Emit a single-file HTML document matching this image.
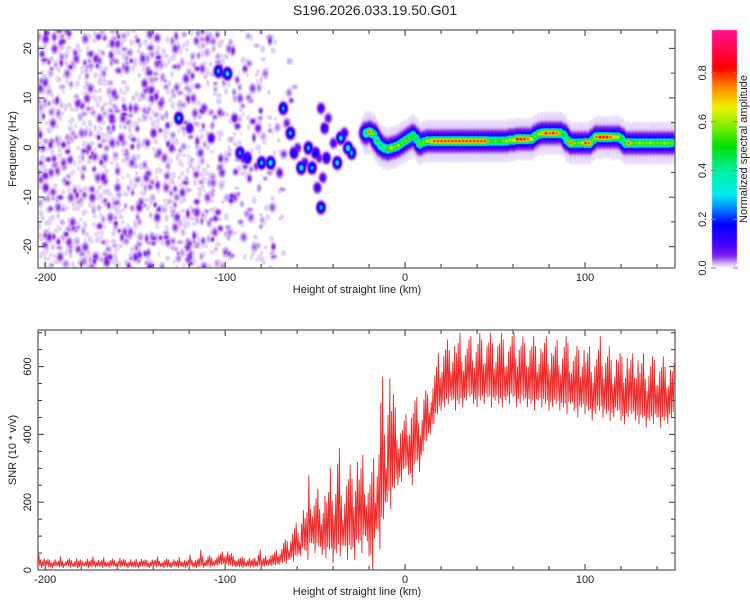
<!DOCTYPE html>
<html><head><meta charset="utf-8"><style>
html,body{margin:0;padding:0;background:#fff;width:750px;height:600px;overflow:hidden}
#wrap{position:relative;width:750px;height:600px}
canvas{position:absolute;left:0;top:0}
svg{position:absolute;left:0;top:0}
text{font-family:"Liberation Sans",sans-serif;fill:#222}
</style></head><body>
<div id="wrap">
<canvas id="heat" width="750" height="600"></canvas>
<svg id="svg" width="750" height="600"></svg>
</div>
<script>
// ---------- DATA ----------
const xRange=[-204,150];
const freqRange=[-24.3,23.7];
const snrRange=[0,708];
const cbRange=[0,0.976];
const xTicks=[-200,-100,0,100];
const freqTicks=[-20,-10,0,10,20];
const snrTicks=[0,200,400,600];
const cbTicks=[0.0,0.2,0.4,0.6,0.8];
const cbTickLabels=["0.0","0.2","0.4","0.6","0.8"];

// noise blobs: km, Hz, amplitude
const noiseKm=[-200,-195,-188,-182,-196,-200,-190,-185,-198,-192,-178,-172,-175,-170,-176,-168,-174,-178,-166,-180,-160,-155,-162,-150,-158,-152,-160,-148,-156,-150,-142,-138,-145,-136,-140,-134,-144,-138,-132,-142,-128,-122,-126,-118,-120,-114,-124,-116,-128,-120,-110,-104,-99,-112,-108,-102,-110,-106,-100,-112,-95,-92,-88,-95,-90,-85,-80,-75,-82,-86,-68,-64,-62,-58,-54,-50,-52,-47,-49,-47,-45,-38,-36,-32,-30,-70,-44,-205,-186,-164,-146,-130,-98,-92,-78,-74,-84,-203,-193,-183,-171,-163,-153,-141,-133,-121,-113,-103,-187,-167,-157,-137,-127,-117,-107,-197,-177,-147,-101,-90,-60,-56,-48,-46,-43,-66,-40,-34];
const noiseHz=[22,20,15,9,5,-8,-3,-15,-18,-22,22,18,12,6,0,-6,-10,-20,-23,3,21,16,11,8,2,-3,-8,-12,-17,-22,23,17,13,9,3,-2,-6,-14,-19,-24,20,14,6,10,4,-1,-9,-13,-16,-22,22,15.5,15,8,2,-5,-10,-17,-21,-24,6,-1,-2,-10,-18,12,-3,-3,4,-14,8,3,-1,-4,0,-1,-4,-12,-8,8,4,-3,2,0,-1,-5,-2,-5,-10,-14,18,0,20,10,15,-12,-20,12,-12,18,-6,1,-17,10,-8,-20,16,-4,-19,-2,6,-1,-14,7,-7,-5,10,-11,15,-2,0,-3,-2,-6,6,5,1,3];
const noiseAmp=[.06,.05,.04,.055,.05,.06,.045,.05,.055,.05,.045,.055,.045,.05,.045,.06,.055,.05,.06,.04,.05,.045,.05,.045,.055,.045,.05,.06,.045,.055,.05,.045,.055,.05,.06,.045,.05,.055,.045,.06,.05,.055,.3,.045,.12,.05,.05,.055,.045,.05,.045,.3,.34,.055,.1,.05,.045,.045,.04,.045,.07,.28,.22,.045,.04,.045,.3,.36,.06,.04,.28,.3,.2,.36,.3,.2,.28,.3,.12,.12,.15,.34,.34,.38,.3,.07,.18,.05,.045,.045,.05,.055,.04,.045,.035,.04,.035,.05,.045,.05,.045,.05,.045,.05,.045,.05,.045,.04,.05,.045,.05,.045,.05,.045,.04,.045,.05,.045,.09,.09,.08,.1,.08,.1,.08,.06,.1,.12];

// background speckle density vs km
const bgKm=[-204,-180,-150,-120,-100,-85,-75,-68,-60];
const bgAmp=[1,1,0.95,0.85,0.65,0.45,0.25,0.1,0];

// ridge track (every 2 km from -22)
const trackHz=[3,3.2,2.8,1.5,0.5,0,-0.2,0,0.2,0.5,1,1.5,2,2.5,1.8,0.8,1.2,1.4,1.4,
1.4,1.4,1.4,1.4,1.4,1.4,1.4,1.4,1.4,1.4,1.4,1.4,1.4,1.4,1.4,1.4,1.4,1.4,1.4,1.4,1.4,
1.6,1.6,1.8,1.8,1.8,1.8,1.8,
2.4,2.8,3,3,3,3,3,3,2.6,
1.5,1,1,1,1,1,1,1.6,
2.2,2.2,2.2,2.2,2.2,2.2,2.2,
1.8,1,
1,1,1,1,1,1,1,1,1,1,1,1,1];
const trackAmp=[.45,.8,.6,.5,.5,.45,.55,.7,.6,.65,.6,.6,.6,.55,.5,.6,.6,.65,.75,
.82,.82,.82,.82,.82,.82,.82,.82,.82,.82,.82,.82,.82,.82,.82,.6,.55,.6,.55,.6,.65,
.65,.7,.85,.85,.85,.8,.7,
.6,.65,.75,.85,.8,.85,.8,.6,.55,
.6,.8,.6,.6,.65,.85,.8,.6,
.8,.85,.85,.85,.8,.7,.7,
.55,.5,
.8,.6,.6,.65,.6,.6,.65,.6,.6,.6,.65,.6,.6];
const trackStart=-22, trackStep=2;

// SNR per 2-km bin from -204: high and low envelope
const snrStart=-204, snrStep=2;
const snrHi=[45,38,32,30,36,28,40,30,34,29,38,31,27,36,30,40,33,29,
37,30,34,28,41,32,30,36,27,33,38,31,29,35,32,39,28,34,
31,36,29,38,33,30,45,32,35,60,33,44,36,42,48,55,62,
50,42,38,40,35,40,33,37,70,36,42,48,52,58,
70,90,85,120,140,110,
200,170,280,210,240,180,250,
230,300,260,360,220,280,310,
270,370,300,340,250,290,330,
380,570,400,630,520,480,430,440,
460,480,500,510,470,530,520,560,600,640,
660,680,650,690,670,700,660,680,690,670,700,680,690,700,670,690,700,680,670,690,700,680,690,670,680,690,660,680,670,690,670,660,680,650,690,670,640,660,650,680,640,660,630,650,690,640,660,620,650,640,630,660,620,640,650,610,640,600,630,620,610,630,600,620,610];
const snrLo=[10,6,12,8,5,11,8,6,12,7,9,5,8,11,6,9,7,10,
6,9,7,11,5,8,10,6,9,7,5,10,8,6,11,7,9,6,
8,6,10,7,9,5,11,8,6,9,7,10,8,11,12,15,14,
12,10,8,9,6,10,8,7,9,6,10,12,11,14,
15,20,18,30,25,40,
40,60,30,80,50,70,45,
35,60,20,50,40,70,30,
60,30,80,50,100,40,0,
120,60,150,200,180,240,250,260,
300,280,250,320,290,350,380,400,430,460,
470,480,490,500,470,490,480,500,510,490,480,500,490,510,480,500,490,480,500,490,510,480,490,500,480,490,470,500,480,490,470,480,490,470,480,460,490,470,450,480,460,470,440,460,470,450,460,440,450,470,440,430,450,460,440,430,450,420,440,430,450,420,440,430,450];

// ---------- LAYOUT ----------
const PX0=38,PX1=675, TY0=30,TY1=268, BY0=330,BY1=570, CBX0=712,CBX1=737;
const xs=k=>PX0+(k-xRange[0])/(xRange[1]-xRange[0])*(PX1-PX0);
const ysTop=h=>TY0+(freqRange[1]-h)/(freqRange[1]-freqRange[0])*(TY1-TY0);
const ysBot=v=>BY1-(v-snrRange[0])/(snrRange[1]-snrRange[0])*(BY1-BY0);
const ysCb=v=>TY1-(v-cbRange[0])/(cbRange[1]-cbRange[0])*(TY1-TY0);

const stops=[[0,[255,255,255]],[0.004,[244,236,253]],[0.014,[222,200,248]],[0.025,[192,150,240]],[0.04,[150,70,232]],[0.06,[112,20,240]],[0.1,[64,0,255]],[0.18,[0,0,255]],[0.25,[0,144,255]],[0.3,[0,235,240]],[0.4,[0,240,160]],[0.5,[0,224,0]],[0.6,[160,240,0]],[0.66,[240,240,0]],[0.74,[255,140,0]],[0.82,[255,0,0]],[0.97,[255,16,144]]];
function cmap(v){
  if(v<=0)return stops[0][1];
  for(let i=1;i<stops.length;i++){if(v<=stops[i][0]){const a=stops[i-1],b=stops[i];const t=(v-a[0])/(b[0]-a[0]);return a[1].map((c,j)=>Math.round(c+(b[1][j]-c)*t));}}
  return stops[stops.length-1][1];
}

// ---------- HEATMAP ----------
const cv=document.getElementById('heat');const ctx=cv.getContext('2d');
const W=PX1-PX0, H=TY1-TY0;
const field=new Float32Array(W*H);
function bgAt(k){if(k<=bgKm[0])return bgAmp[0];for(let i=1;i<bgKm.length;i++){if(k<=bgKm[i]){const t=(k-bgKm[i-1])/(bgKm[i]-bgKm[i-1]);return bgAmp[i-1]+(bgAmp[i]-bgAmp[i-1])*t;}}return 0;}
function blobPx(cx,cy,a,rx,ry){
  const x0=Math.max(0,Math.floor(cx-3*rx)),x1=Math.min(W-1,Math.ceil(cx+3*rx));
  const y0=Math.max(0,Math.floor(cy-3*ry)),y1=Math.min(H-1,Math.ceil(cy+3*ry));
  for(let y=y0;y<=y1;y++)for(let x=x0;x<=x1;x++){
    const dx=(x-cx)/rx,dy=(y-cy)/ry;const v=a*Math.exp(-(dx*dx+dy*dy));
    const i=y*W+x; if(v>field[i])field[i]=v;
  }
}
function blob(k,h,a,sk,sh){
  blobPx(xs(k)-PX0, ysTop(h)-TY0, a, sk*(W/(xRange[1]-xRange[0])), sh*(H/(freqRange[1]-freqRange[0])));
}
// decorative background speckle texture (deterministic hash), density from bgAmp
let seed=12345;function rnd(){seed=(seed*1103515245+12345)&0x7fffffff;return seed/0x7fffffff;}
const texW=xs(-55)-PX0;
for(let n=0;n<2000;n++){
  const px=rnd()*texW, py=rnd()*H, r=rnd(), q=rnd();
  const k=xRange[0]+px/W*(xRange[1]-xRange[0]);
  if(q>bgAt(k))continue;
  const a=r<0.6?0.01+r*0.01:(r<0.88?0.022+(r-0.6)*0.05:0.04+(r-0.88)*0.15);
  blobPx(px,py,a,2.0+rnd()*1.5,2.4+rnd()*2);
}
for(let i=0;i<noiseKm.length;i++){blob(noiseKm[i],noiseHz[i],noiseAmp[i],1.8,0.9);}
for(let i=0;i<trackHz.length;i++){
  const k=trackStart+i*trackStep;
  blob(k,trackHz[i],0.02,2.6,4.0);
  blob(k,trackHz[i],0.05,2.4,2.4);
  blob(k,trackHz[i],0.2,2.4,1.7);
  blob(k,trackHz[i],0.45,2.4,1.2);
}
for(let i=0;i<trackHz.length;i++){const k=trackStart+i*trackStep;blob(k,trackHz[i],trackAmp[i],2.4,0.9);}
const img=ctx.createImageData(W,H);
for(let i=0;i<W*H;i++){const v=field[i];const c=v<0.006?[255,255,255]:cmap(v);img.data[i*4]=c[0];img.data[i*4+1]=c[1];img.data[i*4+2]=c[2];img.data[i*4+3]=255;}
ctx.putImageData(img,PX0,TY0);
// colorbar
for(let y=TY0;y<TY1;y++){const v=cbRange[0]+(TY1-y-0.5)/(TY1-TY0)*(cbRange[1]-cbRange[0]);const c=cmap(Math.max(v,0.002));ctx.fillStyle='rgb('+c.join(',')+')';ctx.fillRect(CBX0,y,CBX1-CBX0,1);}

// ---------- SVG ----------
const NS='http://www.w3.org/2000/svg';const svg=document.getElementById('svg');
function el(tag,attrs,parent){const e=document.createElementNS(NS,tag);for(const k in attrs)e.setAttribute(k,attrs[k]);(parent||svg).appendChild(e);return e;}
function txt(s,attrs,name,parent){const t=el('text',attrs,parent);t.textContent=s;


return t;}

txt('S196.2026.033.19.50.G01',{x:375,y:15,'text-anchor':'middle','font-size':14},'chart-title');

function panel(y0,y1,yTicksArr,yMinorStep,yMin,yMax,ysFn,ylabel,prefix){
  const g=el('g',{});
  
  
  for(let k=-200;k<=150;k+=20){const x=xs(k);const L=(k%100===0)?6:4;
    el('line',{x1:x,x2:x,y1:y1,y2:y1-L,stroke:'#333','stroke-width':1},g);
    el('line',{x1:x,x2:x,y1:y0,y2:y0+L,stroke:'#333','stroke-width':1},g);}
  xTicks.forEach(k=>{txt(String(k),{x:xs(k),y:y1+13,'text-anchor':'middle','font-size':11},prefix+'-x-tick-label',g);});
  for(let v=Math.ceil(yMin/yMinorStep)*yMinorStep;v<=yMax;v+=yMinorStep){const y=ysFn(v);const major=yTicksArr.indexOf(v)>=0;const L=major?6:4;
    el('line',{x1:PX0,x2:PX0+L,y1:y,y2:y,stroke:'#333','stroke-width':1},g);
    el('line',{x1:PX1,x2:PX1-L,y1:y,y2:y,stroke:'#333','stroke-width':1},g);}
  yTicksArr.forEach(v=>{const y=ysFn(v);txt(String(v),{x:0,y:0,'text-anchor':'middle','font-size':11,transform:'translate(31,'+y+') rotate(-90)'},prefix+'-y-tick-label',g);});
  const fr=el('rect',{x:PX0,y:y0,width:PX1-PX0,height:y1-y0,fill:'none',stroke:'#555','stroke-width':1.2},g);
  
  
  txt('Height of straight line (km)',{x:357,y:y1+25,'text-anchor':'middle','font-size':11},prefix+'-x-axis-title',g);
  txt(ylabel,{x:0,y:0,'text-anchor':'middle','font-size':11,transform:'translate(16,'+((y0+y1)/2)+') rotate(-90)'},prefix+'-y-axis-title',g);
}
panel(TY0,TY1,freqTicks,5,freqRange[0],freqRange[1],ysTop,'Frequency (Hz)','top');
panel(BY0,BY1,snrTicks,50,snrRange[0],snrRange[1],ysBot,'SNR (10 * v/v)','bottom');

// colorbar
const cbg=el('g',{});


cbTicks.forEach((v,i)=>{const y=ysCb(v);
  el('line',{x1:CBX0-1,x2:CBX0+4,y1:y,y2:y,stroke:'#888','stroke-width':1},cbg);
  el('line',{x1:CBX1-4,x2:CBX1+1,y1:y,y2:y,stroke:'#888','stroke-width':1},cbg);
  txt(cbTickLabels[i],{x:0,y:0,'text-anchor':'middle','font-size':11,transform:'translate(706,'+y+') rotate(-90)'},'colorbar-tick-label',cbg);});
txt('Normalized spectral amplitude',{x:0,y:0,'text-anchor':'middle','font-size':11,transform:'translate(747,'+((TY0+TY1)/2)+') rotate(-90)'},'colorbar-title',cbg);

// SNR line: zigzags per bin between the bin's low and high envelope
el('clipPath',{id:'clipB'});
const cp=svg.lastChild;el('rect',{x:PX0,y:BY0,width:PX1-PX0,height:BY1-BY0},cp);
const zig=[1,0.6,0.85];
let d='';
const n=Math.min(snrHi.length,snrLo.length);
for(let i=0;i<n;i++){const k=snrStart+i*snrStep;
  const lo=snrLo[i],hi=snrHi[i],loN=i+1<n?snrLo[i+1]:lo;
  const m=2;
  for(let j=0;j<m;j++){
    const f=j/m, x0=k+f*snrStep, x1=k+(f+0.5/m)*snrStep;
    const l=lo+(loN-lo)*f+(j%2)*(hi-lo)*0.1;
    d+=(i===0&&j===0?'M':'L')+xs(x0).toFixed(1)+','+ysBot(l).toFixed(1);
    d+='L'+xs(x1).toFixed(1)+','+ysBot(lo+(hi-lo)*zig[(j+i)%zig.length]).toFixed(1);
  }}
const line=el('path',{d:d,fill:'none',stroke:'#ee2a2a','stroke-width':0.9,'clip-path':'url(#clipB)'});


</script>
</body></html>
